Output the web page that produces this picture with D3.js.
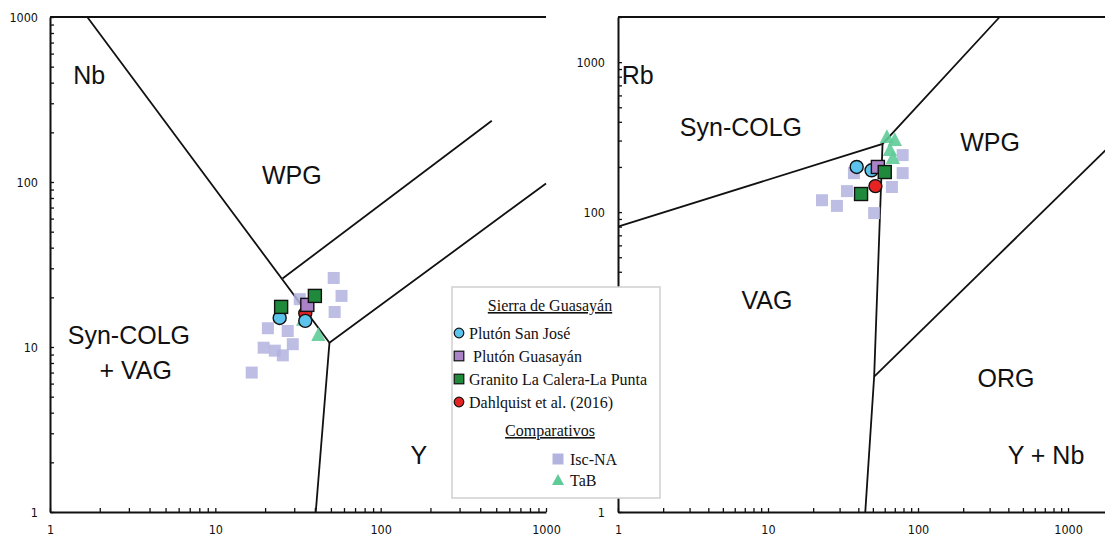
<!DOCTYPE html>
<html><head><meta charset="utf-8">
<script src="https://cdn.jsdelivr.net/npm/d3@7"></script>
<style>body{margin:0;background:#fff;} svg{display:block;}</style>
</head><body>
<svg id="c" width="1105" height="542"></svg>
<script>
// ---------- DATA ----------
// Tick labels
const leftXTickLabels = [1, 10, 100, 1000];
const leftYTickLabels = [1, 10, 100, 1000];
const rightXTickLabels = [1, 10, 100, 1000];
const rightYTickLabels = [1, 100, 1000];

// Left diagram: Nb (ppm) vs Y (ppm)  -> [Y, Nb]
const leftIscNA = [[52,26.2],[58,20.4],[52.7,16.3],[32.4,19.5],[20.8,13],[27.4,12.5],[29.4,10.4],[19.6,9.9],[22.9,9.5],[25.6,8.9],[16.6,7.0]];
const leftTaB = [[34,14.6],[42,11.8]];
const leftSanJose = [[24.5,15],[35,14.4]];
const leftGuasayan = [[36,18]];
const leftGranito = [[25,17.5],[40,20.4]];
const leftDahlquist = [[35,16]];

// Right diagram: Rb vs Y+Nb -> [Y+Nb, Rb]
const rightIscNA = [[79,240],[79,182],[67,147],[37.4,182],[33.6,138],[41.7,132],[22.9,120],[28.8,110],[51,98.5]];
const rightTaB = [[62,316],[70,302],[65,259],[68,229]];
const rightSanJose = [[39,200],[49,190]];
const rightGuasayan = [[54,200]];
const rightGranito = [[60,185],[41.7,132]];
const rightDahlquist = [[52,149]];

// Field boundaries (Pearce et al. 1984) in data units
const leftBoundaries = [
  [[1,1000],[1000,1000]],
  [[1.68,1000],[49,10.6],[1000,98]],
  [[49,10.6],[40.5,1]],
  [[25.5,26],[470,235]]
];
const rightBoundaries = [
  [[1,2000],[2000,2000]],
  [[1,80],[58,285],[350,2000]],
  [[58,285],[51,8],[44.5,1]],
  [[51,8],[2000,290]]
];

// Field labels in data units
const leftLabels = [
  {t:"Nb", p:[1.38,393], a:"start"},
  {t:"WPG", p:[29,97], a:"middle"},
  {t:"Syn-COLG", p:[3.0,10.4], a:"middle"},
  {t:"+ VAG", p:[3.3,6.4], a:"middle"},
  {t:"Y", p:[170,1.95], a:"middle"}
];
const rightLabels = [
  {t:"Rb", p:[1.06,713], a:"start"},
  {t:"Syn-COLG", p:[6.6,321], a:"middle"},
  {t:"WPG", p:[302,255], a:"middle"},
  {t:"VAG", p:[9.85,22.6], a:"middle"},
  {t:"ORG", p:[386,6.8], a:"middle"},
  {t:"Y + Nb", p:[713,2.09], a:"middle"}
];

const legendTitle1 = "Sierra de Guasayán";
const legendItems1 = ["Plutón San José", " Plutón Guasayán", "Granito La Calera-La Punta", "Dahlquist et al. (2016)"];
const legendTitle2 = "Comparativos";
const legendItems2 = ["Isc-NA", "TaB"];

// ---------- STYLE ----------
const COL = {isc:"#b3b3e0", tab:"#5fcb98", sj:"#5cc3ec", gu:"#a982c8", gr:"#1f8a3c", da:"#e62222"};

const svg = d3.select("#c");

function panel(xs, ys, bounds, labels, data, xTickLab, yTickLab, yLabPad) {
  const g = svg.append("g");
  const [x0,x1] = xs.range(); const [y0,y1] = ys.range();
  const minor = (dom) => { const a=[]; for (let k=0;k<=4;k++) for (let m=1;m<=9;m++){const v=m*Math.pow(10,k); if (v>=dom[0]-1e-9 && v<=dom[1]+1e-9) a.push(v);} return a; };

  // field boundary lines
  const line = d3.line().x(d=>xs(d[0])).y(d=>ys(d[1]));
  g.selectAll("path.b").data(bounds).join("path").attr("class","b")
    .attr("d", line).attr("fill","none").attr("stroke","#111").attr("stroke-width",1.8);

  // axes: ticks inward
  const yAx = g.append("g").attr("transform",`translate(${x0},0)`)
    .call(d3.axisRight(ys).tickValues(minor(ys.domain())).tickSize(4).tickSizeOuter(0).tickFormat(""));
  const xAx = g.append("g").attr("transform",`translate(0,${y0})`)
    .call(d3.axisTop(xs).tickValues(minor(xs.domain())).tickSize(4).tickSizeOuter(0).tickFormat(""));
  [yAx,xAx].forEach(a=>{a.select(".domain").attr("stroke","#111").attr("stroke-width",2); a.selectAll(".tick line").attr("stroke","#111").attr("stroke-width",1.3);});

  const yl = g.append("g").attr("transform",`translate(${x0},0)`)
    .call(d3.axisLeft(ys).tickValues(yTickLab).tickSize(0).tickPadding(yLabPad).tickFormat(d3.format("d")));
  const xl = g.append("g").attr("transform",`translate(0,${y0})`)
    .call(d3.axisBottom(xs).tickValues(xTickLab).tickSize(0).tickPadding(13).tickFormat(d3.format("d")));
  [yl,xl].forEach(a=>{a.select(".domain").remove(); a.selectAll("text").attr("font-family","'Liberation Sans Narrow','Arial Narrow','DejaVu Sans Condensed',sans-serif").attr("font-size",12.5).attr("fill","#111");});

  // field labels
  g.selectAll("text.f").data(labels).join("text").attr("class","f")
    .attr("x",d=>xs(d.p[0])).attr("y",d=>ys(d.p[1])).attr("text-anchor",d=>d.a)
    .attr("font-family","'Liberation Sans',Arial,sans-serif").attr("font-size",25).attr("fill","#111").text(d=>d.t);

  // points
  const sq = (arr, col, s, stroke, op) => g.selectAll(null).data(arr).join("rect")
    .attr("x",d=>xs(d[0])-s/2).attr("y",d=>ys(d[1])-s/2).attr("width",s).attr("height",s)
    .attr("fill",col).attr("fill-opacity",op).attr("stroke",stroke?"#111":"none").attr("stroke-width",1.4);
  const ci = (arr, col, r) => g.selectAll(null).data(arr).join("circle")
    .attr("cx",d=>xs(d[0])).attr("cy",d=>ys(d[1])).attr("r",r)
    .attr("fill",col).attr("stroke","#111").attr("stroke-width",1.4);
  const tri = (arr, col, s) => g.selectAll(null).data(arr).join("path")
    .attr("transform",d=>`translate(${xs(d[0])},${ys(d[1])})`)
    .attr("d",`M0,${-s*0.6}L${s*0.55},${s*0.45}L${-s*0.55},${s*0.45}Z`).attr("fill",col).attr("fill-opacity",0.9);
  sq(data.isc, COL.isc, 12, false, 0.85);
  tri(data.tab, COL.tab, 13);
  ci(data.da, COL.da, 6.5);
  ci(data.sj, COL.sj, 6.5);
  sq(data.gu, COL.gu, 13, true, 1);
  sq(data.gr, COL.gr, 13, true, 1);
}

const Lx = d3.scaleLog().domain([1,1000]).range([50,546]);
const Ly = d3.scaleLog().domain([1,1000]).range([512,17]);
const Rx = d3.scaleLog().domain([1,2000]).range([618,1113.2]);
const Ry = d3.scaleLog().domain([1,2000]).range([512,17]);

panel(Lx, Ly, leftBoundaries, leftLabels,
  {isc:leftIscNA, tab:leftTaB, sj:leftSanJose, gu:leftGuasayan, gr:leftGranito, da:leftDahlquist},
  leftXTickLabels, leftYTickLabels, 12);
panel(Rx, Ry, rightBoundaries, rightLabels,
  {isc:rightIscNA, tab:rightTaB, sj:rightSanJose, gu:rightGuasayan, gr:rightGranito, da:rightDahlquist},
  rightXTickLabels, rightYTickLabels, 13);

// ---------- LEGEND ----------
const lg = svg.append("g");
lg.append("rect").attr("x",452).attr("y",287).attr("width",208).attr("height",211)
  .attr("fill","#fff").attr("stroke","#cfcfcf").attr("stroke-width",1.5);
const serif = "'Liberation Serif','Times New Roman',serif";
const FS = 16;
lg.append("text").attr("x",550).attr("y",311).attr("text-anchor","middle").attr("font-family",serif)
  .attr("font-size",FS).attr("text-decoration","underline").attr("fill","#111").text(legendTitle1);
const ly = [333,356,379,402];
const mk = [
  g=>g.append("circle").attr("r",4.8).attr("fill",COL.sj).attr("stroke","#111").attr("stroke-width",1.2),
  g=>g.append("rect").attr("x",-4.8).attr("y",-4.8).attr("width",9.6).attr("height",9.6).attr("fill",COL.gu).attr("stroke","#111").attr("stroke-width",1.2),
  g=>g.append("rect").attr("x",-4.8).attr("y",-4.8).attr("width",9.6).attr("height",9.6).attr("fill",COL.gr).attr("stroke","#111").attr("stroke-width",1.2),
  g=>g.append("circle").attr("r",4.8).attr("fill",COL.da).attr("stroke","#111").attr("stroke-width",1.2)
];
legendItems1.forEach((t,i)=>{
  const g = lg.append("g").attr("transform",`translate(459,${ly[i]})`);
  mk[i](g);
  g.append("text").attr("x",10).attr("y",5.5).attr("font-family",serif).attr("font-size",FS)
    .attr("fill","#111").attr("xml:space","preserve").style("white-space","pre").text(t);
});
lg.append("text").attr("x",550).attr("y",436).attr("text-anchor","middle").attr("font-family",serif)
  .attr("font-size",FS).attr("text-decoration","underline").attr("fill","#111").text(legendTitle2);
const mk2 = [
  g=>g.append("rect").attr("x",-5.5).attr("y",-5.5).attr("width",11).attr("height",11).attr("fill",COL.isc),
  g=>g.append("path").attr("d","M0,-6L6,5L-6,5Z").attr("fill",COL.tab)
];
legendItems2.forEach((t,i)=>{
  const g = lg.append("g").attr("transform",`translate(558,${[459,480][i]})`);
  mk2[i](g);
  g.append("text").attr("x",12).attr("y",5.5).attr("font-family",serif).attr("font-size",FS)
    .attr("fill","#111").text(t);
});
</script>
</body></html>
